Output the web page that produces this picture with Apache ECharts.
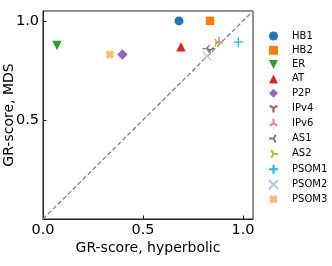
<!DOCTYPE html>
<html><head><meta charset="utf-8">
<script src="https://cdn.jsdelivr.net/npm/echarts@6/dist/echarts.min.js"></script>
<style>html,body{margin:0;padding:0;background:#fff}#c{width:332px;height:266px}</style>
</head><body><div id="c"></div>
<script>
// ---- data ----
var names  = ['HB1','HB2','ER','AT','P2P','IPv4','IPv6','AS1','AS2','PSOM1','PSOM2','PSOM3'];
var hyperbolic = [0.68, 0.835, 0.07, 0.69, 0.397, 0.835, 0.88, 0.82, 0.87, 0.977, 0.82, 0.335];
var mds        = [1.0, 1.0, 0.876, 0.87, 0.83, 0.853, 0.898, 0.86, 0.89, 0.893, 0.823, 0.83];
var colors = ['#1f77b4','#ff7f0e','#2ca02c','#d62728','#9467bd','#8c564b','#e377c2','#7f7f7f','#bcbd22','#17becf','#aec7e8','#ffbb78'];
var xTicks = [0.0, 0.5, 1.0];
var yTicks = [0.5, 1.0];
var axisRange = [0, 1.05];

// ---- marker shapes ----
var S = {
  circle: {symbol:'circle', size:9, filled:true},
  square: {symbol:'rect', size:8.5, filled:true},
  tdown: {symbol:'path://M0 0 L10 0 L5 10 Z', size:9.5, filled:true},
  tup: {symbol:'path://M5 0 L10 10 L0 10 Z', size:9.5, filled:true},
  diamond: {symbol:'diamond', size:10.5, filled:true},
  tri_down: {symbol:'path://M0 0 M20 20 M10 10 L10 20 M10 10 L1.34 5 M10 10 L18.66 5', size:9, filled:false},
  tri_up: {symbol:'path://M0 0 M20 20 M10 10 L10 0 M10 10 L1.34 15 M10 10 L18.66 15', size:9, filled:false},
  tri_left: {symbol:'path://M0 0 M20 20 M10 10 L0 10 M10 10 L15 1.34 M10 10 L15 18.66', size:9, filled:false},
  tri_right: {symbol:'path://M0 0 M20 20 M10 10 L20 10 M10 10 L5 1.34 M10 10 L5 18.66', size:9, filled:false},
  plus: {symbol:'path://M10 0 L10 20 M0 10 L20 10', size:9.5, filled:false},
  x: {symbol:'path://M0 0 L20 20 M20 0 L0 20', size:8.5, filled:false},
  X: {symbol:'path://M0 3 L3 0 L5 2 L7 0 L10 3 L8 5 L10 7 L7 10 L5 8 L3 10 L0 7 L2 5 Z', size:9, filled:true}
};
var markerOf = ['circle','square','tdown','tup','diamond','tri_down','tri_up','tri_left','tri_right','plus','x','X'];

var series = [{
  type:'line', name:'diag', silent:true, z:1, symbol:'none',
  data: axisRange.map(function(v){return [v,v];}),
  lineStyle:{color:'#808080', width:1.3, type:[4.5,2.5]}
}];
names.forEach(function(n,i){
  var m = S[markerOf[i]];
  series.push({
    type:'scatter', name:n, z:3,
    symbol:m.symbol, symbolSize:m.size,
    data:[[hyperbolic[i], mds[i]]],
    itemStyle: m.filled ? {color:colors[i], opacity:1} :
      {color:'rgba(0,0,0,0)', borderColor:colors[i], borderWidth:1.4, opacity:1}
  });
});

function fmt(ticks){
  return function(v){
    for (var i=0;i<ticks.length;i++) if (Math.abs(ticks[i]-v)<1e-6) return ticks[i].toFixed(1);
    return '';
  };
}

var font = 'DejaVu Sans';
var chart = echarts.init(document.getElementById('c'), null, {renderer:'canvas'});
chart.setOption({
  animation:false,
  backgroundColor:'#fff',
  grid:{left:43, top:11, right:79, bottom:47, containLabel:false, outerBoundsMode:'none',
        show:true, borderColor:'#222', borderWidth:1, backgroundColor:'transparent'},
  xAxis:{
    type:'value', min:axisRange[0], max:axisRange[1], interval:0.5,
    name:'GR-score, hyperbolic', nameLocation:'middle', nameGap:22, nameMoveOverlap:false,
    nameTextStyle:{fontFamily:font, fontSize:14, color:'#000'},
    axisLine:{lineStyle:{color:'#222', width:1}},
    axisTick:{inside:true, length:3.5, lineStyle:{color:'#222'}},
    axisLabel:{formatter:fmt(xTicks), fontFamily:font, fontSize:14.5, color:'#000', margin:4, showMaxLabel:false},
    splitLine:{show:false}
  },
  yAxis:{
    type:'value', min:axisRange[0], max:axisRange[1], interval:0.5,
    name:'GR-score, MDS', nameLocation:'middle', nameGap:27, nameMoveOverlap:false,
    nameTextStyle:{fontFamily:font, fontSize:14, color:'#000'},
    axisLine:{lineStyle:{color:'#222', width:1}},
    axisTick:{inside:true, length:3.5, lineStyle:{color:'#222'}},
    axisLabel:{formatter:fmt(yTicks), fontFamily:font, fontSize:14.5, color:'#000', margin:4, showMaxLabel:false},
    splitLine:{show:false}
  },
  legend:{
    orient:'vertical', left:268, top:31, padding:0,
    data:names, itemWidth:9, itemHeight:9, itemGap:4.3,
    textStyle:{fontFamily:font, fontSize:10, lineHeight:10, color:'#000', padding:[0,0,0,9]},
    selectedMode:false
  },
  series:series
});
</script></body></html>
